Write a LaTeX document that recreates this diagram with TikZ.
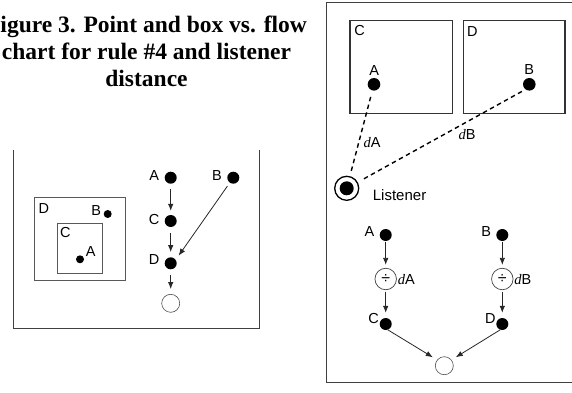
\documentclass[tikz,border=0pt]{standalone}
\usepackage{fontspec}
\setmainfont{Liberation Serif}
\setsansfont{Liberation Sans}
\usetikzlibrary{arrows.meta}
\tikzset{
  frame/.style={draw=black!75, line width=0.9pt},
  boxl/.style={draw=black!65, line width=0.9pt},
  boxr/.style={draw=black!80, line width=1.1pt},
  dotbig/.style={circle, fill=black, inner sep=0pt, minimum size=12pt},
  dotsm/.style={circle, fill=black, inner sep=0pt, minimum size=8pt},
  opencirc/.style={circle, draw=black!70, line width=0.6pt, inner sep=0pt, minimum size=18pt},
  divcirc/.style={circle, draw=black!75, line width=0.7pt, inner sep=0pt, minimum size=21.5pt, font=\sffamily\fontsize{16}{18}\selectfont},
  lab/.style={font=\sffamily\fontsize{14.5}{16}\selectfont, inner sep=0pt},
  ttl/.style={font=\rmfamily\bfseries\fontsize{23.5}{27}\selectfont, inner sep=0pt, anchor=base},
  arr/.style={-{Latex[length=7pt,width=5.5pt]}, line width=0.8pt, draw=black!85},
  dashline/.style={line width=1.4pt, dash pattern=on 4.5pt off 3.5pt}
}
\begin{document}
\begin{tikzpicture}[x=1pt,y=-1pt]
\useasboundingbox (0,0) rectangle (572,392);
\clip (0,0) rectangle (572,392);
% title
\node[ttl] (t1) at (146.5,32) {Figure 3. Point and box vs. flow};
\node[ttl] (t2) at (146.5,59) {chart for rule \#4 and listener};
\node[ttl] (t3) at (146.5,86) {distance};
% ---------------- left panel
\draw[frame] (13.3,150) -- (13.3,328) -- (259.3,328) -- (259.3,150);
\draw[boxl] (34.3,197.3) rectangle (125.3,280.3);
\draw[boxl] (57.7,223.7) rectangle (102,273.3);
\node[lab] (lD) at (43.8,208.7) {D};
\node[lab] (lC) at (65.3,232.8) {C};
\node[dotsm] (sB) at (107.7,214) {};
\node[lab] (lB) at (96.2,210.8) {B};
\node[dotsm] (sA) at (80,259.3) {};
\node[lab] (lA) at (90.8,252) {A};
% left flow
\node[dotbig] (fA) at (170.7,177.7) {};
\node[dotbig] (fB) at (233.3,177.7) {};
\node[dotbig] (fC) at (170.7,221) {};
\node[dotbig] (fD) at (170.7,263.3) {};
\node[opencirc] (fO) at (170.7,303.3) {};
\node[lab] (fAl) at (154.2,175.7) {A};
\node[lab] (fBl) at (217,175.7) {B};
\node[lab] (fCl) at (154.2,219.3) {C};
\node[lab] (fDl) at (154.2,260) {D};
\draw[arr, shorten <=5pt, shorten >=4pt] (fA) -- (fC);
\draw[arr, shorten <=6pt, shorten >=5pt] (fC) -- (fD);
\draw[arr, shorten <=5pt, shorten >=5pt] (fD) -- (fO);
\draw[arr, shorten <=4pt, shorten >=5pt] (fB) -- (fD.35);
% ---------------- right panel
\draw[frame] (573,2) -- (326,2) -- (326,382) -- (573,382);
\draw[boxr] (350,20.7) rectangle (452.7,113.3);
\draw[boxr] (463.3,20.7) rectangle (565,113.3);
\node[lab] (rCl) at (359.7,30.7) {C};
\node[lab] (rDl) at (472.3,31.3) {D};
\node[dotbig, minimum size=12.6pt] (rA) at (374,84.3) {};
\node[dotbig, minimum size=12.6pt] (rB) at (529.3,84.3) {};
\node[lab] (rAl) at (374.3,70.2) {A};
\node[lab] (rBl) at (529.3,69.7) {B};
\node[circle, fill=black, inner sep=0pt, minimum size=14pt] (lis) at (346.7,188.3) {};
\node[circle, draw=black, line width=1.3pt, inner sep=0pt, minimum size=24pt] (lisr) at (346.7,188.3) {};
\node[lab, anchor=base west, font=\sffamily\fontsize{15}{17}\selectfont] (lisl) at (372.7,200) {Listener};
\draw[dashline, shorten <=6.5pt, shorten >=5pt] (rA) -- (lisr);
\draw[dashline, shorten <=4pt, shorten >=4pt] (rB.233) -- (lisr);
\node[lab] (dAl) at (372.2,142.5) {{\rmfamily\itshape d}A};
\node[lab] (dBl) at (467.2,134.5) {{\rmfamily\itshape d}B};
% right flow
\node[dotbig] (gA) at (385.7,235) {};
\node[dotbig] (gB) at (502.3,235) {};
\node[lab] (gAl) at (369.5,231.3) {A};
\node[lab] (gBl) at (486.2,231.3) {B};
\node[divcirc] (qA) at (385.7,279) {÷};
\node[divcirc] (qB) at (502.3,279) {÷};
\node[lab, anchor=west] (qAl) at (397.6,279.5) {{\rmfamily\itshape d}A};
\node[lab, anchor=west] (qBl) at (514.2,279.5) {{\rmfamily\itshape d}B};
\node[dotbig] (gC) at (385.7,324) {};
\node[dotbig] (gD) at (502.3,324) {};
\node[lab] (gCl) at (373.5,318.3) {C};
\node[lab] (gDl) at (490.3,318.3) {D};
\node[opencirc] (gO) at (444.3,365.7) {};
\draw[arr, shorten <=0.5pt, shorten >=3pt] (gA) -- (qA);
\draw[arr, shorten <=0.5pt, shorten >=3pt] (gB) -- (qB);
\draw[arr, shorten <=2pt, shorten >=5pt] (qA) -- (gC);
\draw[arr, shorten <=2pt, shorten >=5pt] (qB) -- (gD);
\draw[arr, shorten >=5pt] (gC.290) -- (gO.141);
\draw[arr, shorten >=5pt] (gD.250) -- (gO.39);
\end{tikzpicture}
\end{document}
